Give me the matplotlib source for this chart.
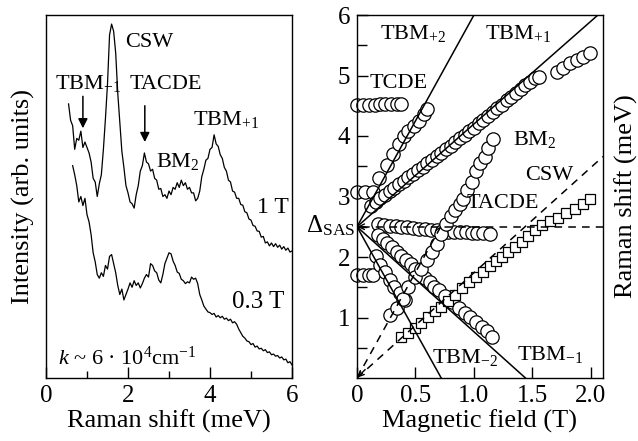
import matplotlib
matplotlib.use("Agg")
import matplotlib.pyplot as plt

plt.rcParams['font.family'] = ['Liberation Serif', 'DejaVu Serif']
plt.rcParams['mathtext.fontset'] = 'custom'
plt.rcParams['mathtext.rm'] = 'Liberation Serif'
plt.rcParams['mathtext.it'] = 'Liberation Serif:italic'
plt.rcParams['mathtext.bf'] = 'Liberation Serif:bold'

# ---------------- Left panel: spectra ----------------
spec1T_x = [0.55,0.60,0.65,0.70,0.75,0.80,0.85,0.90,0.95,1.00,1.05,1.10,1.15,1.20,1.25,1.30,1.35,1.40,1.45,1.50,
            1.55,1.60,1.65,1.70,1.75,1.80,1.85,1.90,1.95,2.00,2.05,2.10,2.15,2.20,2.25,2.30,2.35,2.40,2.45,2.50,
            2.55,2.60,2.65,2.70,2.75,2.80,2.85,2.90,2.95,3.00,3.05,3.10,3.15,3.20,3.25,3.30,3.35,3.40,3.45,3.50,
            3.55,3.60,3.65,3.70,3.75,3.80,3.85,3.90,3.95,4.00,4.05,4.10,4.15,4.20,4.25,4.30,4.35,4.40,4.45,4.50,
            4.55,4.60,4.65,4.70,4.75,4.80,4.85,4.90,4.95,5.00,5.05,5.10,5.15,5.20,5.25,5.30,5.35,5.40,5.45,5.50,
            5.55,5.60,5.65,5.70,5.75,5.80,5.85,5.90,5.95,6.00]
spec1T_y = [7.55,7.10,6.95,6.30,6.60,6.55,6.80,6.35,6.50,6.35,6.20,5.95,5.50,5.40,5.00,5.35,5.60,6.30,7.15,8.10,
            9.45,9.75,9.55,8.95,7.85,7.05,6.25,5.80,5.30,5.10,4.85,4.80,4.68,5.05,5.30,5.70,5.85,6.20,5.95,5.90,
            5.70,5.75,5.50,5.45,5.20,5.22,5.00,5.05,4.95,5.15,5.05,5.25,5.20,5.38,5.25,5.45,5.30,5.38,5.20,5.25,
            5.10,5.10,4.88,4.95,5.15,5.55,5.75,6.00,6.05,6.30,6.35,6.70,6.45,6.38,6.15,6.05,5.80,5.70,5.45,5.40,
            5.15,5.12,4.95,4.95,4.78,4.76,4.58,4.55,4.38,4.35,4.20,4.18,4.05,4.04,3.88,3.90,3.72,3.75,3.64,3.72,
            3.62,3.70,3.60,3.66,3.55,3.62,3.52,3.58,3.47,3.50]

spec03T_x = [0.65,0.70,0.75,0.80,0.85,0.90,0.95,1.00,1.05,1.10,1.15,1.20,1.25,1.30,1.35,1.40,1.45,1.50,
             1.55,1.60,1.65,1.70,1.75,1.80,1.85,1.90,1.95,2.00,2.05,2.10,2.15,2.20,2.25,2.30,2.35,2.40,2.45,2.50,
             2.55,2.60,2.65,2.70,2.75,2.80,2.85,2.90,2.95,3.00,3.05,3.10,3.15,3.20,3.25,3.30,3.35,3.40,3.45,3.50,
             3.55,3.60,3.65,3.70,3.75,3.80,3.85,3.90,3.95,4.00,4.05,4.10,4.15,4.20,4.25,4.30,4.35,4.40,4.45,4.50,
             4.55,4.60,4.65,4.70,4.75,4.80,4.85,4.90,4.95,5.00,5.05,5.10,5.15,5.20,5.25,5.30,5.35,5.40,5.45,5.50,
             5.55,5.60,5.65,5.70,5.75,5.80,5.85,5.90,5.95,6.00]
spec03T_y = [5.85,5.60,5.30,4.85,5.00,4.75,4.95,4.50,4.30,3.95,3.45,3.20,2.85,2.75,2.90,2.80,3.10,3.00,
             3.35,3.40,3.15,2.90,2.55,2.30,2.45,2.15,2.30,2.45,2.62,2.50,2.68,2.55,2.62,2.48,2.60,2.75,2.85,2.78,
             3.15,3.10,2.95,2.90,2.70,2.62,2.85,3.15,3.30,3.45,3.42,3.22,3.10,2.92,2.88,2.72,2.68,2.60,2.65,2.62,
             2.78,2.72,2.75,2.60,2.30,2.15,1.98,1.90,1.82,1.80,1.75,1.78,1.68,1.72,1.66,1.70,1.62,1.65,1.58,1.62,
             1.52,1.55,1.48,1.35,1.25,1.15,1.10,1.02,1.00,0.92,0.95,0.85,0.88,0.80,0.82,0.75,0.78,0.70,0.72,0.64,
             0.66,0.60,0.62,0.55,0.58,0.50,0.52,0.42,0.45,0.36]

left_xticks = [0, 2, 4, 6]
left_xminor = [1, 3, 5]

# ---------------- Right panel: fan diagram ----------------
delta_sas = 2.5
tbm_p2 = ([0.0, 1.0], [2.5, 6.0])
tbm_p1 = ([0.0, 2.06], [2.5, 6.0])
tbm_m2 = ([0.0, 0.72], [2.5, 0.0])
tbm_m1 = ([0.0, 1.44], [2.5, 0.0])
dash_h = ([0.04, 2.103], [2.5, 2.5])
dash_csw = ([0.0, 2.103], [0.0, 3.66])
dash_tacde = ([0.0, 0.73], [0.0, 2.55])

tcde_x = [0.0, 0.05, 0.1, 0.15, 0.2, 0.24, 0.29, 0.34, 0.38]
tcde_y = [4.52, 4.52, 4.52, 4.52, 4.53, 4.53, 4.53, 4.53, 4.53]

low3_x = [0.0, 0.07, 0.14]
low3_y = [3.08, 3.07, 3.07]

low17_x = [0.0, 0.05, 0.1, 0.14]
low17_y = [1.70, 1.70, 1.70, 1.71]

tbm2p_x = [0.19, 0.26, 0.31, 0.36, 0.40, 0.44, 0.49, 0.53, 0.57, 0.60]
tbm2p_y = [3.30, 3.52, 3.70, 3.86, 4.00, 4.08, 4.17, 4.25, 4.36, 4.45]

tbm1p_x = [0.12,0.16,0.20,0.24,0.28,0.32,0.36,0.40,0.44,0.48,0.52,0.56,0.60,0.64,0.68,0.72,0.76,0.80,0.84,
           0.88,0.92,0.96,1.00,1.04,1.08,1.12,1.16,1.20,1.24,1.28,1.32,1.36,1.40,1.44,1.48,1.52,1.56]
tbm1p_y = [2.85,2.91,2.97,3.03,3.09,3.14,3.20,3.26,3.32,3.38,3.43,3.49,3.55,3.61,3.67,3.72,3.78,3.84,3.90,
           3.96,4.01,4.08,4.14,4.21,4.27,4.33,4.39,4.46,4.52,4.59,4.64,4.71,4.77,4.84,4.90,4.96,4.98]

upper_x = [1.71, 1.76, 1.82, 1.88, 1.93, 1.99]
upper_y = [5.06, 5.12, 5.20, 5.26, 5.30, 5.37]

dsas_x = [0.18,0.23,0.28,0.33,0.38,0.43,0.48,0.53,0.58,0.63,0.68,0.73,0.78,0.83,0.88,0.93,0.98,1.03,1.08,1.14]
dsas_y = [2.54,2.53,2.52,2.51,2.50,2.49,2.48,2.47,2.46,2.45,2.44,2.43,2.42,2.42,2.41,2.41,2.40,2.40,2.39,2.38]

tbm1m_x = [0.18,0.22,0.26,0.30,0.34,0.38,0.42,0.46,0.50,0.54,0.58,0.62,0.66,0.70,0.75,
           0.81,0.87,0.92,0.97,1.02,1.07,1.11,1.15]
tbm1m_y = [2.36,2.30,2.23,2.16,2.09,2.02,1.95,1.88,1.80,1.73,1.65,1.58,1.51,1.46,1.36,
           1.26,1.15,1.07,1.01,0.93,0.85,0.77,0.68]

tbm2m_x = [0.16, 0.20, 0.24, 0.28, 0.32, 0.37, 0.41]
tbm2m_y = [2.02, 1.87, 1.76, 1.62, 1.51, 1.40, 1.29]

bm2_x = [0.28,0.34,0.39,0.44,0.50,0.55,0.60,0.64,0.68,0.72,0.76,0.80,0.84,0.88,0.91,0.94,0.98,1.02,1.05,1.09,1.12,1.16]
bm2_y = [1.04,1.15,1.30,1.50,1.67,1.80,1.95,2.08,2.22,2.38,2.55,2.68,2.78,2.88,2.96,3.10,3.24,3.42,3.55,3.66,3.80,3.95]

csw_x = [0.38,0.44,0.50,0.55,0.61,0.67,0.72,0.78,0.84,0.90,0.96,1.02,1.08,1.14,1.19,1.24,1.29,1.35,1.41,1.46,
         1.52,1.58,1.65,1.72,1.79,1.86,1.93,1.99]
csw_y = [0.67,0.75,0.83,0.91,1.01,1.10,1.18,1.28,1.38,1.48,1.58,1.67,1.76,1.85,1.93,2.00,2.09,2.17,2.25,2.34,
         2.45,2.53,2.60,2.65,2.72,2.80,2.88,2.96]

right_xticks = [0, 0.5, 1.0, 1.5, 2.0]
right_xticklabels = ['0', '0.5', '1.0', '1.5', '2.0']
right_yticks = [1, 2, 3, 4, 5, 6]
right_yminor = [0.5, 1.5, 2.5, 3.5, 4.5, 5.5]

# ---------------- Figure ----------------
fig = plt.figure(figsize=(6.38, 4.41), dpi=100)
H = 441.0
W = 638.0
axL = fig.add_axes([46/W, (H-378)/H, (292-46)/W, (378-15)/H])
axR = fig.add_axes([357/W, (H-378)/H, (603-357)/W, (378-15)/H])

TICK_FS = 18
LAB_FS = 19
ANN_FS = 16

# Left panel
axL.plot(spec1T_x, spec1T_y, color='black', lw=0.9)
axL.plot(spec03T_x, spec03T_y, color='black', lw=0.9)
axL.set_xlim(0, 6)
axL.set_ylim(0, 10)
axL.set_xticks(left_xticks)
axL.set_xticks(left_xminor, minor=True)
axL.set_yticks([])
axL.tick_params(axis='x', which='major', direction='in', length=8, width=1, labelsize=TICK_FS, pad=5)
axL.tick_params(axis='x', which='minor', direction='in', length=5, width=1)
axL.set_xlabel('Raman shift (meV)', fontsize=LAB_FS, labelpad=2)
axL.set_ylabel('Intensity (arb. units)', fontsize=LAB_FS, labelpad=8)

axL.text(1.93, 9.13, 'CSW', fontsize=ANN_FS, ha='left', va='baseline')
axL.text(0.22, 7.96, r'TBM$_{\mathrm{-1}}$', fontsize=ANN_FS, ha='left', va='baseline')
axL.text(2.03, 7.96, 'TACDE', fontsize=ANN_FS, ha='left', va='baseline')
axL.text(3.59, 6.97, r'TBM$_{\mathrm{+1}}$', fontsize=ANN_FS, ha='left', va='baseline')
axL.text(2.68, 5.81, r'BM$_{\mathrm{2}}$', fontsize=ANN_FS, ha='left', va='baseline')
axL.text(5.14, 4.54, '1 T', fontsize=17, ha='left', va='baseline')
axL.text(4.53, 1.93, '0.3 T', fontsize=18, ha='left', va='baseline')
axL.text(0.29, 0.36, r'$k$ ~ 6 · 10$^{\mathrm{4}}$cm$^{\mathrm{-1}}$', fontsize=ANN_FS, ha='left', va='baseline')
axL.annotate('', xy=(0.9, 6.88), xytext=(0.9, 7.76),
             arrowprops=dict(arrowstyle='-|>', color='black', lw=1.1, mutation_scale=14, shrinkA=0, shrinkB=0))
axL.annotate('', xy=(2.41, 6.5), xytext=(2.41, 7.5),
             arrowprops=dict(arrowstyle='-|>', color='black', lw=1.1, mutation_scale=14, shrinkA=0, shrinkB=0))

# Right panel
mk = dict(marker='o', ms=9.6, mfc='white', mec='black', mew=0.9, ls='none', clip_on=False, zorder=2)
for xs, ys in [(tcde_x, tcde_y), (low3_x, low3_y), (low17_x, low17_y), (tbm2p_x, tbm2p_y),
               (tbm1p_x, tbm1p_y), (upper_x, upper_y), (dsas_x, dsas_y), (tbm1m_x, tbm1m_y),
               (tbm2m_x, tbm2m_y), (bm2_x, bm2_y)]:
    axR.plot(xs, ys, **mk)
axR.plot(csw_x, csw_y, marker='s', ms=7.6, mfc='white', mec='black', mew=0.9, ls='none', zorder=2)

for xs, ys in [tbm_p2, tbm_p1, tbm_m2, tbm_m1]:
    axR.plot(xs, ys, color='black', lw=1.1, zorder=3)
for xs, ys in [dash_h, dash_csw, dash_tacde]:
    axR.plot(xs, ys, color='black', lw=1.1, ls=(0, (5, 4)), zorder=3)

axR.annotate('', xy=(0.003, 0.006), xytext=(0.07, 0.14),
             arrowprops=dict(arrowstyle='->', color='black', lw=1.0, mutation_scale=10, shrinkA=0, shrinkB=0))
axR.annotate('', xy=(0.003, 2.5), xytext=(0.07, 2.5),
             arrowprops=dict(arrowstyle='->', color='black', lw=1.0, mutation_scale=10, shrinkA=0, shrinkB=0))

axR.set_xlim(0, 2.103)
axR.set_ylim(0, 6)
axR.set_xticks(right_xticks)
axR.set_xticklabels(right_xticklabels)
axR.set_yticks(right_yticks)
axR.set_yticks(right_yminor, minor=True)
axR.tick_params(axis='both', which='major', direction='in', length=8, width=1, labelsize=TICK_FS, pad=5)
axR.tick_params(axis='y', which='minor', direction='in', length=7, width=1)
axR.set_xlabel('Magnetic field (T)', fontsize=LAB_FS, labelpad=2)
axR.yaxis.set_label_position('right')
axR.set_ylabel('Raman shift (meV)', fontsize=LAB_FS, labelpad=8)
axR.text(-0.012, 2.52, r'$\Delta_{\mathrm{SAS}}$', fontsize=TICK_FS, ha='right', va='center')

axR.text(0.2, 5.6, r'TBM$_{\mathrm{+2}}$', fontsize=ANN_FS, ha='left', va='baseline')
axR.text(1.094, 5.6, r'TBM$_{\mathrm{+1}}$', fontsize=ANN_FS, ha='left', va='baseline')
axR.text(0.111, 4.79, 'TCDE', fontsize=ANN_FS, ha='left', va='baseline')
axR.text(1.333, 3.85, r'BM$_{\mathrm{2}}$', fontsize=ANN_FS, ha='left', va='baseline')
axR.text(1.436, 3.27, 'CSW', fontsize=ANN_FS, ha='left', va='baseline')
axR.text(0.94, 2.81, 'TACDE', fontsize=ANN_FS, ha='left', va='baseline')
axR.text(0.64, 0.25, r'TBM$_{\mathrm{-2}}$', fontsize=ANN_FS, ha='left', va='baseline')
axR.text(1.37, 0.30, r'TBM$_{\mathrm{-1}}$', fontsize=ANN_FS, ha='left', va='baseline')

for ax in (axL, axR):
    for s in ax.spines.values():
        s.set_linewidth(1.0)

fig.savefig('out.png', dpi=100)
